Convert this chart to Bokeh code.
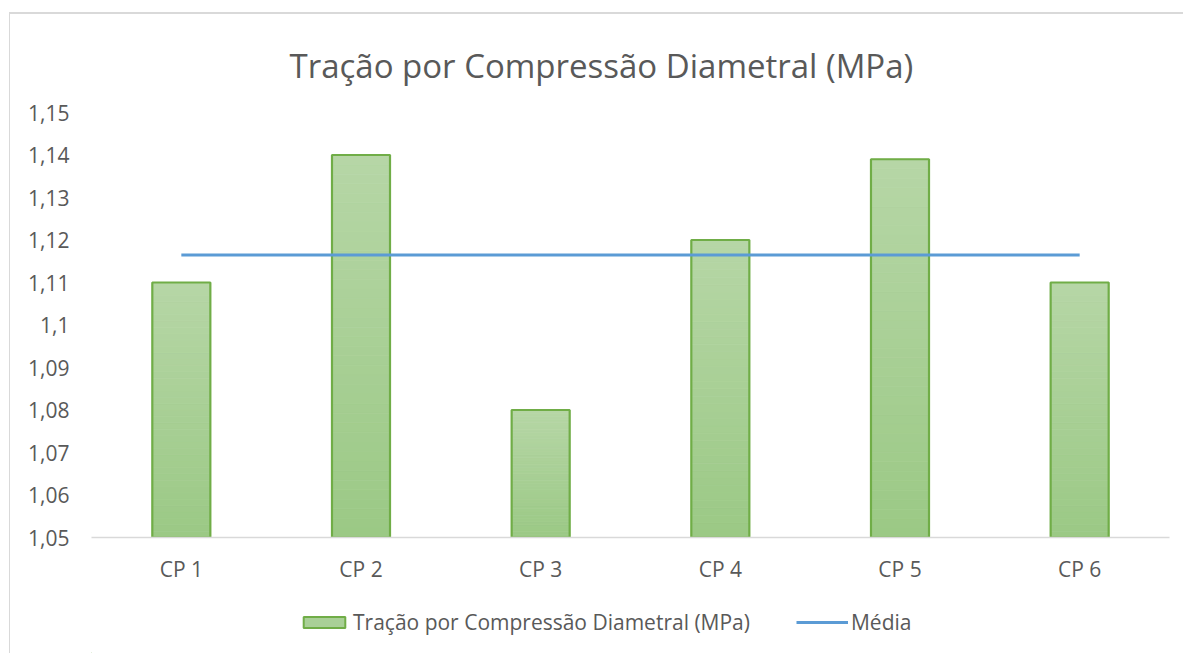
import numpy as np
from bokeh.plotting import figure
from bokeh.layouts import column
from bokeh.models import ColumnDataSource, Legend, LegendItem, Title, FixedTicker, Range1d
from bokeh.embed import file_html
from bokeh.resources import INLINE

# ---- data ----
categories = ["CP 1", "CP 2", "CP 3", "CP 4", "CP 5", "CP 6"]
tracao = [1.11, 1.14, 1.08, 1.12, 1.139, 1.11]
y_ticks = [1.05, 1.06, 1.07, 1.08, 1.09, 1.10, 1.11, 1.12, 1.13, 1.14, 1.15]
y_tick_labels = ["1,05", "1,06", "1,07", "1,08", "1,09", "1,1", "1,11", "1,12", "1,13", "1,14", "1,15"]
title_text = "Tração por Compressão Diametral (MPa)"
series_name = "Tração por Compressão Diametral (MPa)"
mean_name = "Média"

media = float(np.mean(tracao))
x_pos = [i + 0.5 for i in range(len(categories))]
base = 1.05

FONT = "Open Sans"
TXT = "#595959"
GREEN = "#70ad47"
BLUE = "#5b9bd5"
BORDER = "1px solid #d9d9d9"
BAR_W = 0.323

p = figure(width=1174, height=583, output_backend="svg", toolbar_location=None,
           x_range=Range1d(0, len(categories)), y_range=Range1d(1.05, 1.15),
           min_border_left=81, min_border_right=15, min_border_top=98, min_border_bottom=60,
           styles={"margin-left": "9px", "margin-top": "12px",
                   "border-left": BORDER, "border-top": "2px solid #d9d9d9"})
p.outline_line_color = None
p.xgrid.grid_line_color = None
p.ygrid.grid_line_color = None
p.background_fill_color = "white"
p.border_fill_color = "white"

# gradient bars: slices from light (top) to darker (bottom)
top_rgb = np.array([182, 214, 166])
bot_rgb = np.array([155, 201, 133])
N = 40
xs, bots, tops, cols = [], [], [], []
for xp, v in zip(x_pos, tracao):
    for k in range(N):
        b = base + (v - base) * k / N
        t = base + (v - base) * (k + 1) / N
        f = (k + 0.5) / N
        c = bot_rgb + (top_rgb - bot_rgb) * f
        xs.append(xp); bots.append(b); tops.append(t)
        cols.append("#%02x%02x%02x" % tuple(int(round(q)) for q in c))
grad = ColumnDataSource(dict(x=xs, bottom=bots, top=tops, color=cols))
p.vbar(x="x", bottom="bottom", top="top", width=BAR_W, source=grad,
       fill_color="color", line_color="color", line_width=0.8)

bars = ColumnDataSource(dict(x=x_pos, top=tracao, bottom=[base] * len(tracao)))
p.vbar(x="x", top="top", bottom="bottom", width=BAR_W, source=bars,
       fill_alpha=0, line_color=GREEN, line_width=2.2)

mean_src = ColumnDataSource(dict(x=[x_pos[0], x_pos[-1]], y=[media, media]))
p.line(x="x", y="y", source=mean_src, line_color=BLUE, line_width=3)

# axes
p.xaxis.ticker = FixedTicker(ticks=x_pos)
p.xaxis.major_label_overrides = {xp: c for xp, c in zip(x_pos, categories)}
p.xaxis.major_tick_line_color = None
p.xaxis.minor_tick_line_color = None
p.xaxis.axis_line_color = "#d9d9d9"
p.xaxis.axis_line_width = 1.5
p.xaxis.major_label_text_font = FONT
p.xaxis.major_label_text_font_size = "21px"
p.xaxis.major_label_text_color = TXT
p.xaxis.major_label_standoff = 11

p.yaxis.ticker = FixedTicker(ticks=y_ticks)
p.yaxis.major_label_overrides = {t: l for t, l in zip(y_ticks, y_tick_labels)}
p.yaxis.major_tick_line_color = None
p.yaxis.minor_tick_line_color = None
p.yaxis.axis_line_color = None
p.yaxis.major_label_text_font = FONT
p.yaxis.major_label_text_font_size = "21px"
p.yaxis.major_label_text_color = TXT
p.yaxis.major_label_standoff = 16

# title
p.add_layout(Title(text=title_text, align="left", offset=198, standoff=49,
                   text_font=FONT, text_font_size="33px", text_font_style="normal",
                   text_color=TXT), "above")

# legend strip (separate canvas beneath the chart)
lg = figure(width=1174, height=58, output_backend="svg", toolbar_location=None,
            x_range=Range1d(0, 1), y_range=Range1d(0, 1),
            x_axis_location=None, y_axis_location=None,
            min_border_left=0, min_border_right=0, min_border_top=0, min_border_bottom=0,
            styles={"margin-left": "9px", "border-left": BORDER})
lg.outline_line_color = None
lg.grid.visible = False
lg.border_fill_color = "white"
lg.background_fill_color = "white"
# legend key renderers, kept outside the strip's visible range
proxy_bar = lg.vbar(x=[-5], top=[-5], bottom=[-6], width=0.1, fill_color="#a9d097",
                    line_color=GREEN, line_width=2)
proxy_line = lg.line(x=[-6, -5], y=[-5, -5], line_color=BLUE, line_width=3)

legend = Legend(items=[LegendItem(label=series_name, renderers=[proxy_bar]),
                       LegendItem(label=mean_name, renderers=[proxy_line])],
                orientation="horizontal", location=(207, 17),
                glyph_width=52, glyph_height=14, label_standoff=3, spacing=46,
                padding=0, margin=0, border_line_color=None, background_fill_alpha=0,
                label_text_font=FONT, label_text_font_size="21px", label_text_color=TXT)
lg.add_layout(legend)

open("out.html", "w").write(file_html(column(p, lg, spacing=0), INLINE))
